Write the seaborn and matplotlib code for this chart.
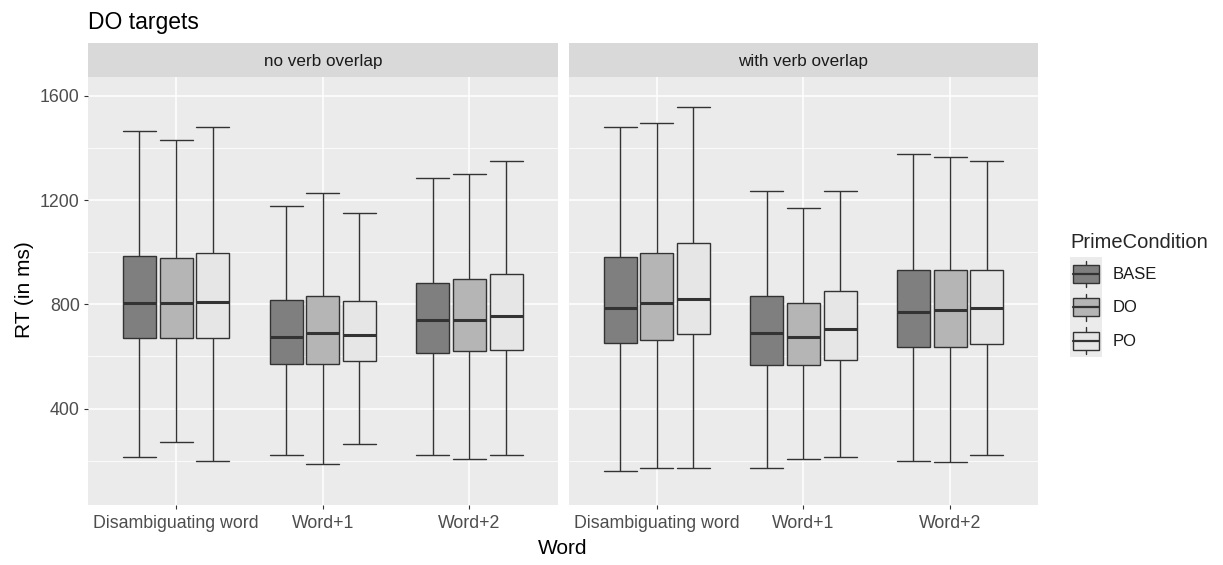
import numpy as np
import pandas as pd
import matplotlib
matplotlib.use("Agg")
import matplotlib.pyplot as plt
from matplotlib.patches import Rectangle, Patch
from matplotlib.lines import Line2D
from matplotlib.legend_handler import HandlerBase
import seaborn as sns

# ---------------- data ----------------
words = ["Disambiguating word", "Word+1", "Word+2"]
conditions = ["BASE", "DO", "PO"]
panels = ["no verb overlap", "with verb overlap"]

# each list ordered: word-major, condition-minor (BASE, DO, PO)
no_overlap_min = [216, 271, 199, 220, 188, 265, 220, 206, 220]
no_overlap_q1 = [670, 670, 670, 571, 571, 581, 615, 620, 626]
no_overlap_med = [804, 804, 810, 673, 689, 684, 739, 739, 755]
no_overlap_q3 = [987, 976, 998, 817, 833, 813, 883, 898, 916]
no_overlap_max = [1465, 1430, 1479, 1178, 1228, 1151, 1283, 1298, 1349]

with_overlap_min = [161, 172, 172, 172, 206, 216, 199, 194, 221]
with_overlap_q1 = [653, 664, 685, 567, 567, 588, 638, 638, 648]
with_overlap_med = [787, 804, 820, 689, 673, 707, 772, 777, 787]
with_overlap_q3 = [980, 998, 1036, 833, 805, 851, 931, 931, 931]
with_overlap_max = [1479, 1497, 1557, 1233, 1168, 1233, 1375, 1365, 1349]

colors = ["#7F7F7F", "#B5B5B5", "#E6E6E6"]

stats_by_panel = {
    panels[0]: [no_overlap_min, no_overlap_q1, no_overlap_med, no_overlap_q3, no_overlap_max],
    panels[1]: [with_overlap_min, with_overlap_q1, with_overlap_med, with_overlap_q3, with_overlap_max],
}

rows = []
for p in panels:
    st = stats_by_panel[p]
    k = 0
    for w in words:
        for c in conditions:
            for s in st:
                rows.append({"Panel": p, "Word": w, "PrimeCondition": c, "RT": s[k]})
            k += 1
df = pd.DataFrame(rows)

# ---------------- figure ----------------
sns.set_theme(style="darkgrid")
plt.rcParams["font.family"] = ["Liberation Sans", "DejaVu Sans"]

W, H = 1223, 565
fig = plt.figure(figsize=(W / 100, H / 100), dpi=100)
fig.patch.set_facecolor("white")

top_px, bot_px = 76.7, 505
lefts = [88, 568.7]
pw = 469.5
axes = []
for i, p in enumerate(panels):
    ax = fig.add_axes([lefts[i] / W, 1 - bot_px / H, pw / W, (bot_px - top_px) / H])
    axes.append(ax)
    sub = df[df["Panel"] == p]
    sns.boxplot(
        data=sub, x="Word", y="RT", hue="PrimeCondition",
        order=words, hue_order=conditions, palette=colors,
        whis=(0, 100), width=0.75, gap=0.1, linecolor="#333333",
        linewidth=1.0, fliersize=0, legend=False, ax=ax,
        medianprops=dict(linewidth=2.2, color="#333333"),
        saturation=1,
    )
    # caps same width as boxes (ggplot errorbar style)
    for cont in ax.containers:
        boxes = cont.boxes
        caps = cont.caps
        for j, b in enumerate(boxes):
            verts = b.get_path().vertices
            x0, x1 = verts[:, 0].min(), verts[:, 0].max()
            for cap in caps[2 * j:2 * j + 2]:
                cap.set_xdata([x0, x1])
                cap.set_linewidth(1.0)

    ax.set_facecolor("#EBEBEB")
    ax.set_ylim(30, 1673)
    ax.set_xlim(-0.6, 2.6)
    ax.set_yticks([400, 800, 1200, 1600])
    ax.set_yticks([200, 600, 1000, 1400], minor=True)
    ax.grid(which="major", color="white", linewidth=1.1)
    ax.grid(which="minor", axis="y", color="white", linewidth=0.55)
    ax.set_axisbelow(True)
    for s in ax.spines.values():
        s.set_visible(False)
    ax.tick_params(axis="both", which="major", length=3, width=0.8, color="#333333",
                   labelcolor="#4D4D4D", labelsize=12.8, direction="out",
                   bottom=True, left=True)
    ax.tick_params(axis="x", which="major", pad=4.5)
    ax.tick_params(axis="y", which="major", pad=3)
    ax.tick_params(axis="both", which="minor", length=0)
    ax.set_xlabel("")
    ax.set_ylabel("")
    if i == 1:
        ax.tick_params(axis="y", which="both", left=False, labelleft=False)

    strip_h = 34 / (bot_px - top_px)
    ax.add_patch(Rectangle((0, 1), 1, strip_h, transform=ax.transAxes,
                           facecolor="#D9D9D9", edgecolor="none", clip_on=False))
    ax.text(0.5, 1 + strip_h * 0.44, p, transform=ax.transAxes, ha="center", va="center",
            fontsize=12.3, color="#1A1A1A")

fig.text(88 / W, 1 - 22 / H, "DO targets", ha="left", va="center", fontsize=16.5, color="black")
fig.text(563 / W, 1 - 548 / H, "Word", ha="center", va="center", fontsize=15, color="black")
fig.text(24 / W, 1 - 290 / H, "RT (in ms)", ha="center", va="center", rotation=90,
         fontsize=15, color="black")


class BoxKey(HandlerBase):
    def create_artists(self, legend, orig_handle, xdescent, ydescent, width, height,
                       fontsize, trans):
        x0, y0 = -xdescent, -ydescent
        bg = Rectangle((x0, y0), width, height, facecolor="#EBEBEB", edgecolor="none",
                       transform=trans)
        cx = x0 + width / 2
        wl = Line2D([cx, cx], [y0 + 0.1 * height, y0 + 0.9 * height], color="#333333",
                    lw=1.0, transform=trans)
        box = Rectangle((x0 + 0.09 * width, y0 + 0.23 * height), 0.82 * width, 0.54 * height,
                        facecolor=orig_handle.get_facecolor(), edgecolor="#333333",
                        lw=1.0, transform=trans)
        cy = y0 + height / 2
        med = Line2D([x0 + 0.09 * width, x0 + 0.91 * width], [cy, cy], color="#333333",
                     lw=1.6, transform=trans)
        return [bg, wl, box, med]


handles = [Patch(facecolor=c, edgecolor="#333333", linewidth=1.0) for c in colors]
leg = axes[1].legend(handles, conditions, title="PrimeCondition", loc="center left",
                     bbox_to_anchor=(1.0677, 0.49), frameon=False, fontsize=12,
                     title_fontsize=14.5, alignment="left", handlelength=1.9,
                     handleheight=2.7, labelspacing=0.0, handletextpad=0.66,
                     borderpad=0.0, borderaxespad=0.0, handler_map={Patch: BoxKey()})
leg._legend_box.sep = 4
for t in leg.get_texts():
    t.set_color("#1A1A1A")

fig.savefig("out.png", dpi=100)
